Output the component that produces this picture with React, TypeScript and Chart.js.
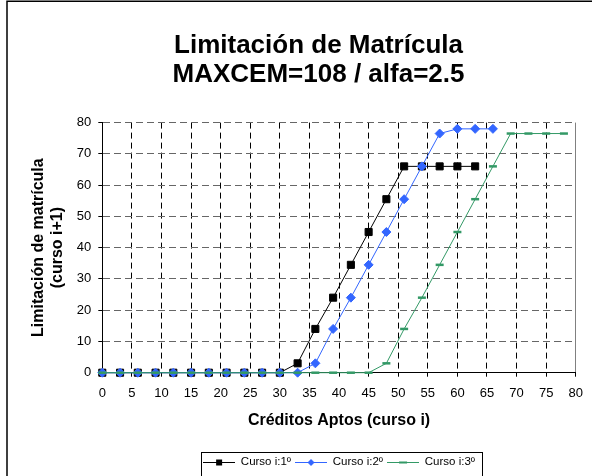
import React, { useEffect, useRef } from 'react';
import { Chart, registerables } from 'chart.js';

Chart.register(...registerables);

const FONT = '"Liberation Sans", Arial, Helvetica, sans-serif';

const titleLines = ['Limitación de Matrícula', 'MAXCEM=108 / alfa=2.5'];
const xAxisTitle = 'Créditos Aptos (curso i)';
const yAxisTitle = ['Limitación de matrícula', '(curso i+1)'];
const seriesNames = ['Curso i:1º', 'Curso i:2º', 'Curso i:3º'];

const xTicks = [0, 5, 10, 15, 20, 25, 30, 35, 40, 45, 50, 55, 60, 65, 70, 75, 80];
const yTicks = [0, 10, 20, 30, 40, 50, 60, 70, 80];

const credits1 = [0, 3, 6, 9, 12, 15, 18, 21, 24, 27, 30, 33, 36, 39, 42, 45, 48, 51, 54, 57, 60, 63];
const limit1 = [0, 0, 0, 0, 0, 0, 0, 0, 0, 0, 0, 3, 14, 24, 34.5, 45, 55.5, 66, 66, 66, 66, 66];

const credits2 = [0, 3, 6, 9, 12, 15, 18, 21, 24, 27, 30, 33, 36, 39, 42, 45, 48, 51, 54, 57, 60, 63, 66];
const limit2 = [0, 0, 0, 0, 0, 0, 0, 0, 0, 0, 0, 0, 3, 14, 24, 34.5, 45, 55.5, 66, 76.5, 78, 78, 78];

const credits3 = [0, 3, 6, 9, 12, 15, 18, 21, 24, 27, 30, 33, 36, 39, 42, 45, 48, 51, 54, 57, 60, 63, 66, 69, 72, 75, 78];
const limit3 = [0, 0, 0, 0, 0, 0, 0, 0, 0, 0, 0, 0, 0, 0, 0, 0, 3, 14, 24, 34.5, 45, 55.5, 66, 76.5, 76.5, 76.5, 76.5];

const BLACK = '#000000';
const BLUE = '#3366FF';
const GREEN = '#339966';

const zip = (xs: number[], ys: number[]) => xs.map((x, i) => ({ x, y: ys[i] }));

function legendIcon(color: string, shape: 'square' | 'diamond' | 'dash') {
  const c = document.createElement('canvas');
  c.width = 32;
  c.height = 10;
  const g = c.getContext('2d')!;
  g.strokeStyle = color;
  g.lineWidth = 1;
  g.beginPath();
  g.moveTo(0, 5.5);
  g.lineTo(32, 5.5);
  g.stroke();
  g.fillStyle = color;
  if (shape === 'square') {
    g.fillRect(13, 2.5, 6, 6);
  } else if (shape === 'diamond') {
    g.beginPath();
    g.moveTo(16, 2);
    g.lineTo(19.5, 5.5);
    g.lineTo(16, 9);
    g.lineTo(12.5, 5.5);
    g.closePath();
    g.fill();
  } else {
    g.fillRect(12, 4.5, 8, 2);
  }
  return c;
}

export default function App() {
  const ref = useRef<HTMLCanvasElement>(null);

  useEffect(() => {
    const canvas = ref.current;
    if (!canvas) return;
    const icons = [legendIcon(BLACK, 'square'), legendIcon(BLUE, 'diamond'), legendIcon(GREEN, 'dash')];

    const decor = {
      id: 'decor',
      afterDraw(chart: any) {
        const ctx = chart.ctx as CanvasRenderingContext2D;
        ctx.save();
        // outer chart frame
        ctx.strokeStyle = '#000';
        ctx.lineWidth = 1.5;
        ctx.beginPath();
        ctx.moveTo(7, 480);
        ctx.lineTo(7, 1.25);
        ctx.lineTo(600, 1.25);
        ctx.stroke();
        // title
        ctx.fillStyle = '#000';
        ctx.font = `bold 26px ${FONT}`;
        ctx.textAlign = 'center';
        ctx.textBaseline = 'middle';
        ctx.fillText(titleLines[0], 318.5, 46);
        ctx.fillText(titleLines[1], 318.5, 75);
        // legend frame
        const lg = chart.legend;
        if (lg && lg.legendHitBoxes && lg.legendHitBoxes.length) {
          const hb = lg.legendHitBoxes;
          const left = Math.round(hb[0].left - 2) + 0.5;
          const last = hb[hb.length - 1];
          const right = Math.round(last.left + last.width + 7) + 0.5;
          const top = Math.round(lg.top) + 0.5;
          ctx.lineWidth = 1;
          ctx.strokeStyle = '#000';
          ctx.strokeRect(left, top, right - left, 40);
        }
        ctx.restore();
      },
    };

    const chart = new Chart(canvas, {
      type: 'line',
      data: {
        datasets: [
          {
            label: seriesNames[0],
            data: zip(credits1, limit1),
            order: 3,
            borderColor: BLACK,
            backgroundColor: BLACK,
            borderWidth: 1,
            pointStyle: 'rect',
            pointRadius: 5,
            pointBorderWidth: 1,
            pointBackgroundColor: BLACK,
            pointBorderColor: BLACK,
            tension: 0,
            fill: false,
            clip: false,
          },
          {
            label: seriesNames[1],
            data: zip(credits2, limit2),
            order: 2,
            borderColor: BLUE,
            backgroundColor: BLUE,
            borderWidth: 1,
            pointStyle: 'rectRot',
            pointRadius: 4.5,
            pointBorderWidth: 1,
            pointBackgroundColor: BLUE,
            pointBorderColor: BLUE,
            tension: 0,
            fill: false,
            clip: false,
          },
          {
            label: seriesNames[2],
            data: zip(credits3, limit3),
            order: 1,
            borderColor: GREEN,
            backgroundColor: GREEN,
            borderWidth: 1,
            pointStyle: 'line',
            pointRadius: 4,
            pointBorderWidth: 2.5,
            pointBackgroundColor: GREEN,
            pointBorderColor: GREEN,
            tension: 0,
            fill: false,
            clip: false,
          },
        ],
      } as any,
      options: {
        responsive: false,
        animation: false,
        devicePixelRatio: 1,
        events: [],
        layout: { padding: { top: 122.6, left: 7, right: 13.3, bottom: -1.75 } },
        plugins: {
          title: { display: false },
          tooltip: { enabled: false },
          legend: {
            display: true,
            position: 'bottom',
            fullSize: false,
            labels: {
              usePointStyle: true,
              pointStyleWidth: 32,
              padding: 4,
              color: '#000',
              font: { family: FONT, size: 11.5 },
              generateLabels: (ch: any) =>
                ch.data.datasets.map((ds: any, i: number) => ({
                  text: ds.label,
                  pointStyle: icons[i],
                  fillStyle: ds.borderColor,
                  strokeStyle: ds.borderColor,
                  lineWidth: 0,
                  hidden: false,
                  datasetIndex: i,
                  fontColor: '#000',
                })),
            },
          },
        },
        scales: {
          x: {
            type: 'linear',
            position: 'bottom',
            min: 0,
            max: 80,
            afterBuildTicks: (s: any) => {
              s.ticks = xTicks.map((v) => ({ value: v }));
            },
            afterFit: (s: any) => {
              s.height = 79.55;
            },
            ticks: {
              color: '#000',
              font: { family: FONT, size: 13 },
              padding: 9,
              maxRotation: 0,
              autoSkip: false,
            },
            grid: {
              color: (c: any) =>
                c.tick && c.tick.value === 80 ? '#808080' : c.tick && c.tick.value === 0 ? 'rgba(0,0,0,0)' : '#000',
              lineWidth: 1,
              drawTicks: true,
              tickLength: 4,
              tickColor: '#000',
            },
            border: {
              display: true,
              color: '#000',
              width: 1,
              dash: (c: any) => (c.tick && c.tick.value === 80 ? [] : [6, 4]),
            },
            title: {
              display: true,
              text: xAxisTitle,
              color: '#000',
              font: { family: FONT, size: 16, weight: 'bold', lineHeight: 1.2 },
              padding: { top: 0, bottom: 21.65 },
            },
          },
          y: {
            type: 'linear',
            position: 'left',
            min: 0,
            max: 80,
            afterBuildTicks: (s: any) => {
              s.ticks = yTicks.map((v) => ({ value: v }));
            },
            afterFit: (s: any) => {
              s.width = 95.3;
            },
            ticks: {
              color: '#000',
              font: { family: FONT, size: 13 },
              padding: 7,
            },
            grid: {
              color: (c: any) => (c.tick && c.tick.value === 0 ? 'rgba(0,0,0,0)' : '#666666'),
              lineWidth: 1,
              drawTicks: true,
              tickLength: 4,
              tickColor: '#000',
            },
            border: { display: true, color: '#000', width: 1, dash: [7, 4] },
            title: {
              display: true,
              text: yAxisTitle,
              color: '#000',
              font: { family: FONT, size: 16, weight: 'bold', lineHeight: 1.1875 },
              padding: { top: 22.5, bottom: 0 },
            },
          },
        },
      } as any,
      plugins: [decor],
    });

    return () => chart.destroy();
  }, []);

  return (
    <div style={{ position: 'fixed', left: 0, top: 0, width: 592, height: 476, background: '#fff' }}>
      <canvas ref={ref} width={592} height={476} style={{ display: 'block', width: 592, height: 476 }} />
    </div>
  );
}
